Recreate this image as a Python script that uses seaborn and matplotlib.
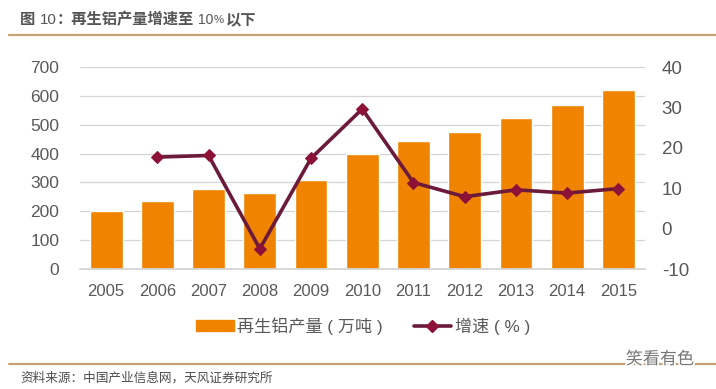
import matplotlib
matplotlib.use('Agg')
import matplotlib.pyplot as plt
from matplotlib.lines import Line2D
from matplotlib.patches import Patch
import matplotlib.patheffects as pe
import seaborn as sns
import numpy as np
import pandas as pd

years = [2005, 2006, 2007, 2008, 2009, 2010, 2011, 2012, 2013, 2014, 2015]
output_wt = [200, 234, 276, 262, 307, 398, 444, 476, 523, 567, 622]
growth_pct = [np.nan, 17.7, 18.1, -5.0, 17.4, 29.6, 11.4, 7.9, 9.6, 8.8, 9.9]
left_ticks = [0, 100, 200, 300, 400, 500, 600, 700]
right_ticks = [-10, 0, 10, 20, 30, 40]

sns.set_theme(style='white')
plt.rcParams['font.family'] = ['Liberation Sans', 'Noto Sans CJK SC', 'DejaVu Sans']
plt.rcParams['axes.unicode_minus'] = False

W, H = 716, 389
BAR = '#f08300'
LINE = '#8c1238'
LINE_DARK = '#6b1a3a'
TXT = '#595959'
RULE = '#c8a274'

df = pd.DataFrame({'year': years, 'output': output_wt, 'growth': growth_pct})

fig = plt.figure(figsize=(W / 100, H / 100), dpi=100)
ax = fig.add_axes([80 / W, 1 - 269 / H, 565 / W, 202 / H])

sns.barplot(data=df, x='year', y='output', color=BAR, saturation=1, width=0.64,
            native_scale=True, ax=ax)
ax.set_xlim(2004.49, 2015.52)
ax.set_ylim(0, 700)
ax.set_yticks(left_ticks)
ax.set_xticks(years)
ax.set_xticklabels([str(y) for y in years])
ax.set_xlabel('')
ax.set_ylabel('')
ax.grid(axis='y', color='#d4d4d4', linewidth=0.9)
ax.set_axisbelow(True)
ax.tick_params(axis='x', length=0, labelsize=12, labelcolor=TXT, pad=11)
ax.tick_params(axis='y', length=0, labelsize=12.5, labelcolor=TXT, pad=15)
sns.despine(ax=ax, left=True, right=True, top=True)
ax.spines['bottom'].set_color('#d4d4d4')

ax2 = ax.twinx()
sns.lineplot(data=df.dropna(), x='year', y='growth', color=LINE_DARK, linewidth=2.6,
             marker='D', markersize=6.5, markerfacecolor=LINE, markeredgecolor=LINE,
             ax=ax2)
ax2.set_ylim(-10, 40)
ax2.set_yticks(right_ticks)
ax2.set_xlabel('')
ax2.set_ylabel('')
ax2.grid(False)
ax2.tick_params(axis='y', length=0, labelsize=13.5, labelcolor=TXT, pad=12)
for s in ax2.spines.values():
    s.set_visible(False)

handles = [Patch(color=BAR, label='再生铝产量 ( 万吨 )'),
           Line2D([], [], color=LINE_DARK, linewidth=2.6, marker='D', markersize=6.5,
                  markerfacecolor=LINE, markeredgecolor=LINE, label='增速 ( % )')]
fig.legend(handles=handles, loc='center', bbox_to_anchor=(363 / W, 1 - 326 / H), ncol=2,
           frameon=False, fontsize=12.3, labelcolor=TXT, handlelength=2.2,
           handletextpad=0.2, columnspacing=1.8, handleheight=0.6)

# title pieces, the latin parts are not bold in the original
title_parts = [(20, '图', 'bold', 11), (40, '10', 'normal', 10.8), (57, '：再生铝产量增速至', 'bold', 11),
               (198, '10', 'normal', 10), (214, '%', 'normal', 8.2), (225.5, '以下', 'bold', 11)]
for px, part, weight, size in title_parts:
    fig.text(px / W, 1 - 20 / H, part, fontsize=size, color='#555555',
             fontweight=weight, va='center', ha='left')

fig.text(20 / W, 1 - 378 / H, '资料来源：中国产业信息网，天风证券研究所', fontsize=9.1,
         color='#4d4d4d', va='center', ha='left')
fig.add_artist(Line2D([9 / W, 1], [1 - 35 / H, 1 - 35 / H], color=RULE, linewidth=1.6))
fig.add_artist(Line2D([9 / W, 1], [1 - 363.5 / H, 1 - 363.5 / H], color=RULE, linewidth=1.6))
fig.text(660 / W, 1 - 359 / H, '笑看有色', fontsize=12.3, color='#777777', va='center', ha='center',
         path_effects=[pe.withStroke(linewidth=2.5, foreground='white')], zorder=5)

fig.savefig('out.png', dpi=100, facecolor='white')
